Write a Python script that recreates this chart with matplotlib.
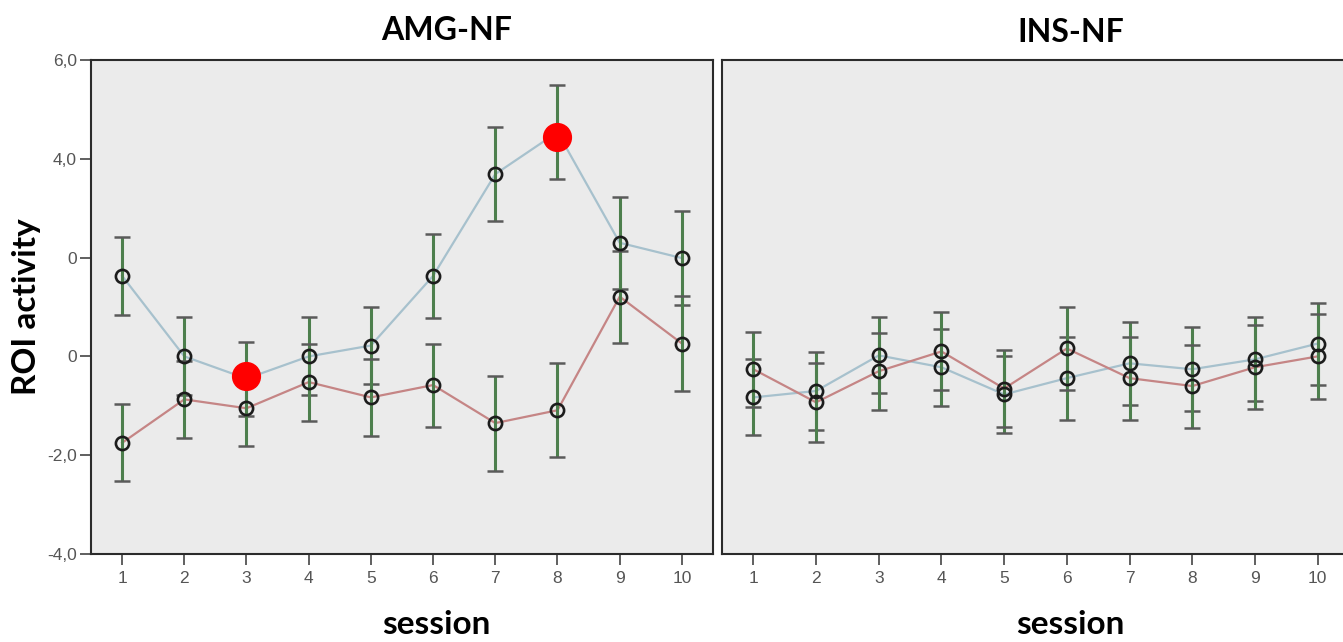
import numpy as np
import matplotlib
matplotlib.use("Agg")
import matplotlib.pyplot as plt

sessions = [1, 2, 3, 4, 5, 6, 7, 8, 9, 10]

amg_blue = [1.63, 0.00, -0.45, 0.00, 0.22, 1.63, 3.69, 4.54, 2.30, 1.99]
amg_blue_err = [0.79, 0.79, 0.75, 0.79, 0.78, 0.85, 0.95, 0.95, 0.93, 0.95]
amg_red = [-1.75, -0.87, -1.05, -0.52, -0.83, -0.58, -1.35, -1.09, 1.21, 0.26]
amg_red_err = [0.78, 0.78, 0.76, 0.78, 0.78, 0.84, 0.96, 0.95, 0.93, 0.96]

ins_blue = [-0.83, -0.70, 0.02, -0.22, -0.77, -0.44, -0.14, -0.26, -0.06, 0.26]
ins_blue_err = [0.77, 0.78, 0.77, 0.78, 0.78, 0.84, 0.84, 0.85, 0.85, 0.83]
ins_red = [-0.26, -0.93, -0.30, 0.10, -0.65, 0.16, -0.44, -0.60, -0.22, 0.00]
ins_red_err = [0.76, 0.80, 0.78, 0.79, 0.78, 0.85, 0.84, 0.84, 0.85, 0.86]

highlight_x = [3, 8]
highlight_y = [-0.40, 4.44]

yticks = [-4, -2, 0, 2, 4, 6]
ytick_labels = ["-4,0", "-2,0", "0", "0", "4,0", "6,0"]

BLUE = "#a7c1cd"
RED = "#c58585"
STEM = "#4d7f4d"
CAP = "#5a5a5a"
BG = "#ebebeb"
SPINE = "#2b2b2b"

W, H = 1343, 642
fig = plt.figure(figsize=(W / 100, H / 100), dpi=100)


def px_axes(x0, y0, x1, y1):
    return fig.add_axes([x0 / W, 1 - y1 / H, (x1 - x0) / W, (y1 - y0) / H])


def panel(ax, blue, blue_err, red, red_err):
    ax.set_facecolor(BG)
    x = np.array(sessions)
    for vals, errs, col in ((blue, blue_err, BLUE), (red, red_err, RED)):
        v = np.array(vals)
        e = np.array(errs)
        ax.plot(x, v, color=col, lw=1.6, zorder=2)
        ax.vlines(x, v - e, v + e, color=STEM, lw=2.2, zorder=3)
        ax.plot(x, v + e, ls="none", marker="_", ms=12, mew=1.8,
                color=CAP, zorder=3)
        ax.plot(x, v - e, ls="none", marker="_", ms=12, mew=1.8,
                color=CAP, zorder=3)
        ax.plot(x, v, ls="none", marker="o", ms=9.5, mfc="none",
                mec="#1c1c1c", mew=1.9, zorder=4)
    ax.set_xlim(0.5, 10.5)
    ax.set_ylim(-4, 6)
    ax.set_xticks(sessions)
    ax.set_xticklabels([str(s) for s in sessions])
    for sp in ax.spines.values():
        sp.set_color(SPINE)
        sp.set_linewidth(1.5)
    ax.tick_params(axis="x", direction="out", length=8, width=1.2,
                   color="#444444", labelsize=12.5, labelcolor="#555555",
                   pad=4)
    for lab in ax.get_xticklabels():
        lab.set_family("Liberation Sans")


ax1 = px_axes(91, 60, 713, 554)
panel(ax1, amg_blue, amg_blue_err, amg_red, amg_red_err)
ax1.plot(highlight_x, highlight_y, ls="none", marker="o", ms=20,
         color="#ff0000", zorder=6)
ax1.set_yticks(yticks)
ax1.set_yticklabels(ytick_labels)
ax1.tick_params(axis="y", direction="out", length=8, width=1.2,
                color="#444444", labelsize=12.5, labelcolor="#555555", pad=2)
for lab in ax1.get_yticklabels():
    lab.set_family("Liberation Sans")

ax2 = px_axes(722, 60, 1349, 554)
panel(ax2, ins_blue, ins_blue_err, ins_red, ins_red_err)
ax2.set_yticks([])
ax2.spines["right"].set_visible(False)

title_kw = dict(family="Lato", fontweight="bold", ha="center", va="center",
                color="black")
fig.text(447 / W, 1 - 30 / H, "AMG-NF", fontsize=23, **title_kw)
fig.text(1071 / W, 1 - 32 / H, "INS-NF", fontsize=23, **title_kw)
fig.text(436 / W, 1 - 625 / H, "session", fontsize=24, **title_kw)
fig.text(1070 / W, 1 - 625 / H, "session", fontsize=24, **title_kw)
fig.text(27 / W, 1 - 307 / H, "ROI activity", rotation=90, fontsize=24,
         **title_kw)

fig.savefig("out.png", dpi=100)
